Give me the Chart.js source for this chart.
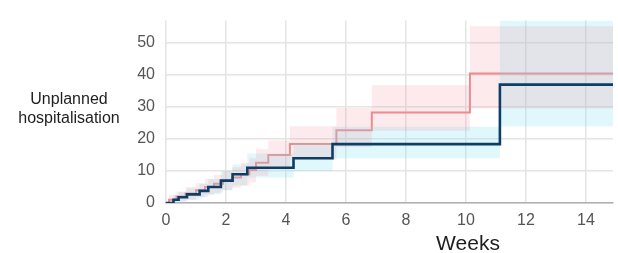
<!DOCTYPE html>
<html lang="en">
<head>
    <meta charset="UTF-8">
    <title>Unplanned hospitalisation</title>
    <script src="https://cdn.jsdelivr.net/npm/chart.js"></script>
    <style>
        body { margin: 0; background: #fff; }
        #wrap { position: relative; width: 618px; height: 253px; overflow: hidden; }
        .label { position: absolute; font-family: "Liberation Sans", Arial, sans-serif; color: #1e1e1e; white-space: nowrap; }
        #ytitle { left: 0; width: 138px; top: 89px; font-size: 16px; line-height: 19px; text-align: center; }
        #xtitle { left: 408px; width: 120px; top: 231px; font-size: 21px; line-height: 24px; text-align: center; }
    </style>
</head>
<body>
    <div id="wrap">
        <canvas id="kmChart" width="618" height="253"></canvas>
        <div id="ytitle" class="label">Unplanned<br>hospitalisation</div>
        <div id="xtitle" class="label">Weeks</div>
    </div>

    <script>
        // step curves (value holds from that week on)
        const weeksPink = [0, 0.1, 0.35, 0.65, 1.0, 1.3, 1.6, 1.9, 2.2, 2.5, 2.78, 3.0, 3.41, 4.13, 5.68, 6.86, 10.13, 14.9];
        const hospPink  = [0, 1, 2, 3, 4, 5, 6, 7, 8, 9, 10.3, 12.6, 15, 18.4, 22.7, 28.3, 40.5, 40.5];
        const pinkLow   = [0, 0, 0.5, 1, 1.8, 2.5, 3.2, 4, 4.8, 5.5, 6.5, 8.5, 10.5, 13.5, 17.5, 22.6, 29.5, 29.5];
        const pinkHigh  = [0, 2.5, 3.5, 5, 6.2, 7.5, 8.8, 10, 11.2, 12.5, 14, 16.8, 19.5, 24, 29.7, 36.8, 55.2, 55.2];

        const weeksBlue = [0, 0.25, 0.42, 0.7, 1.12, 1.41, 1.83, 2.22, 2.71, 4.25, 5.55, 11.13, 14.9];
        const hospBlue  = [0, 1, 1.8, 2.7, 3.8, 5, 7, 9, 11, 14, 18.4, 37, 37];
        const blueLow   = [0, 0, 0.5, 1, 1.8, 2.7, 4, 5.5, 8, 10, 14, 24, 24];
        const blueHigh  = [0, 2.5, 3.5, 4.5, 6, 7.5, 10, 12, 15.5, 18.5, 23.8, 57, 57];

        const xTicks = [0, 2, 4, 6, 8, 10, 12, 14];
        const yTicks = [0, 10, 20, 30, 40, 50];

        function pts(xs, ys) {
            return xs.map((x, i) => ({ x: x, y: ys[i] }));
        }

        function band(xs, ys, fill, color) {
            return {
                data: pts(xs, ys),
                stepped: 'before',
                borderWidth: 0,
                pointRadius: 0,
                fill: fill,
                backgroundColor: color
            };
        }

        const ctx = document.getElementById('kmChart').getContext('2d');
        new Chart(ctx, {
            type: 'line',
            data: {
                datasets: [
                    {
                        data: pts(weeksBlue, hospBlue),
                        stepped: 'before',
                        borderColor: '#0e3d66',
                        borderWidth: 2.6,
                        pointRadius: 0,
                        fill: false,
                        order: 0
                    },
                    {
                        data: pts(weeksPink, hospPink),
                        stepped: 'before',
                        borderColor: '#ef8a8e',
                        borderWidth: 2,
                        pointRadius: 0,
                        fill: false,
                        order: 1
                    },
                    // pink band sits over the cyan one, so overlaps come out greyish
                    band(weeksPink, pinkHigh, '+1', 'rgba(240, 140, 150, 0.18)'),
                    band(weeksPink, pinkLow, false, 'rgba(240, 140, 150, 0.18)'),
                    band(weeksBlue, blueHigh, '+1', 'rgba(140, 225, 240, 0.27)'),
                    band(weeksBlue, blueLow, false, 'rgba(140, 225, 240, 0.27)')
                ]
            },
            options: {
                responsive: false,
                animation: false,
                layout: { padding: { top: 13, right: 5, left: 0, bottom: 0 } },
                plugins: { legend: { display: false }, tooltip: { enabled: false } },
                scales: {
                    x: {
                        type: 'linear',
                        min: 0,
                        max: 14.9,
                        afterFit: s => { s.height = 50; },
                        afterBuildTicks: s => { s.ticks = xTicks.map(v => ({ value: v })); },
                        ticks: {
                            includeBounds: false,
                            padding: 8,
                            color: '#555',
                            font: { family: 'Liberation Sans', size: 16 }
                        },
                        grid: { color: '#e4e4e4', lineWidth: 1.5, drawTicks: false },
                        border: { color: '#b0b0b0', width: 1.5 }
                    },
                    y: {
                        min: 0,
                        max: 57,
                        afterFit: s => { s.width = 166; },
                        afterBuildTicks: s => { s.ticks = yTicks.map(v => ({ value: v })); },
                        ticks: {
                            includeBounds: false,
                            padding: 11,
                            color: '#555',
                            font: { family: 'Liberation Sans', size: 16 }
                        },
                        grid: { color: '#e4e4e4', lineWidth: 1.5, drawTicks: false },
                        border: { display: false }
                    }
                }
            }
        });
    </script>
</body>
</html>
